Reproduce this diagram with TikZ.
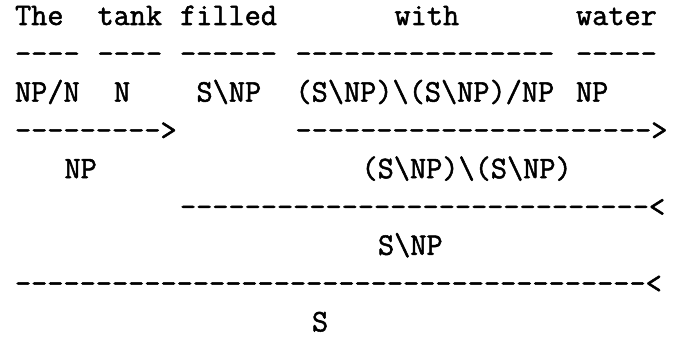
\documentclass[tikz,border=0pt]{standalone}
\usepackage{fontspec}
\newfontfamily\ttheavy{Latin Modern Mono}[FakeBold=1.6]
\newcommand\dshs[1]{\foreach \i in {1,...,#1}{-\kern0pt}}
\tikzset{
  tok/.style={anchor=base west, inner sep=0pt, outer sep=0pt,
    font=\fontsize{31.4}{38.4}\selectfont\ttheavy}
}
\begin{document}
\begin{tikzpicture}[x=1pt,y=1pt]
\useasboundingbox (0,0) rectangle (677,338);
\def\cw{16.5}
\def\xo{15}
\def\lp{38.3}
\def\ytop{313}
% column c, line l
\newcommand\at[2]{({\xo+\cw*#1},{\ytop-\lp*(#2-1)})}
% line 1: words
\node[tok] (wThe)    at \at{0}{1}  {The};
\node[tok] (wtank)   at \at{5}{1}  {tank};
\node[tok] (wfilled) at \at{10}{1} {filled};
\node[tok] (wwith)   at \at{23}{1} {with};
\node[tok] (wwater)  at \at{34}{1} {water};
% line 2: lexical rules
\node[tok] (rThe)    at \at{0}{2}  {\dshs{4}};
\node[tok] (rtank)   at \at{5}{2}  {\dshs{4}};
\node[tok] (rfilled) at \at{10}{2} {\dshs{6}};
\node[tok] (rwith)   at \at{17}{2} {\dshs{16}};
\node[tok] (rwater)  at \at{34}{2} {\dshs{5}};
% line 3: categories
\node[tok] (cThe)    at \at{0}{3}  {NP/N};
\node[tok] (ctank)   at \at{6}{3}  {N};
\node[tok] (cfilled) at \at{11}{3} {S\textbackslash NP};
\node[tok] (cwith)   at \at{17}{3} {(S\textbackslash NP)\textbackslash(S\textbackslash NP)/NP};
\node[tok] (cwater)  at \at{34}{3} {NP};
% line 4: forward applications
\node[tok] (fa1) at \at{0}{4}  {\dshs{9}>};
\node[tok] (fa2) at \at{17}{4} {\dshs{22}>};
% line 5
\node[tok] (np)  at \at{3}{5}  {NP};
\node[tok] (adv) at \at{21}{5} {(S\textbackslash NP)\textbackslash(S\textbackslash NP)};
% line 6
\node[tok] (ba1) at \at{10}{6} {\dshs{29}<};
% line 7
\node[tok] (vp)  at \at{22}{7} {S\textbackslash NP};
% line 8
\node[tok] (ba2) at \at{0}{8}  {\dshs{39}<};
% line 9
\node[tok] (s)   at \at{18}{9} {S};
\end{tikzpicture}
\end{document}
